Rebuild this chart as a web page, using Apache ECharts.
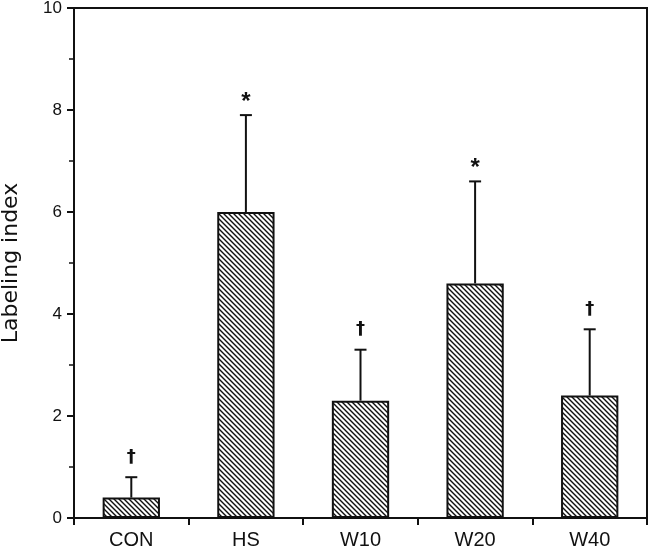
<!DOCTYPE html>
<html>
<head>
<meta charset="utf-8">
<script src="https://cdn.jsdelivr.net/npm/echarts@6/dist/echarts.min.js"></script>
<style>html,body{margin:0;padding:0;background:#fff}#c{width:649px;height:550px}</style>
</head>
<body>
<div id="c"></div>
<script>
const categories = ['CON', 'HS', 'W10', 'W20', 'W40'];
const means = [0.4, 6.0, 2.3, 4.6, 2.4];
const errors = [0.4, 1.9, 1.0, 2.0, 1.3];
const marks = ['†', '*', '†', '*', '†'];
const yTicks = [0, 2, 4, 6, 8, 10];

function hatch() {
  const s = 5;
  const c = document.createElement('canvas');
  c.width = s; c.height = s;
  const g = c.getContext('2d');
  g.fillStyle = '#fff'; g.fillRect(0, 0, s, s);
  g.strokeStyle = '#111'; g.lineWidth = 1.4;
  g.beginPath();
  g.moveTo(-1, -1); g.lineTo(s + 1, s + 1);
  g.moveTo(-1, s - 1); g.lineTo(1, s + 1);
  g.moveTo(s - 1, -1); g.lineTo(s + 1, 1);
  g.stroke();
  return c;
}

const chart = echarts.init(document.getElementById('c'));
const font = '"Liberation Sans", Arial, sans-serif';
chart.setOption({
  animation: false,
  grid: { left: 74, right: 2, top: 8, bottom: 32, show: true, borderColor: '#111', borderWidth: 2,
          containLabel: false, outerBoundsMode: 'none' },
  xAxis: {
    type: 'category', data: categories,
    axisLine: { lineStyle: { color: '#111', width: 2 } },
    axisTick: { show: true, length: 7, lineStyle: { color: '#111', width: 2 } },
    axisLabel: { color: '#111', fontSize: 20, fontFamily: font, margin: 12 }
  },
  yAxis: {
    type: 'value', min: yTicks[0], max: yTicks[yTicks.length - 1], interval: 2,
    name: 'Labeling index', nameLocation: 'middle', nameGap: 52,
    nameTextStyle: { color: '#111', fontSize: 22, fontFamily: '"DejaVu Sans", sans-serif' },
    axisLine: { show: true, lineStyle: { color: '#111', width: 2 } },
    axisTick: { show: true, length: 7, lineStyle: { color: '#111', width: 2 } },
    minorTick: { show: true, splitNumber: 2, length: 5, lineStyle: { color: '#111', width: 1.5 } },
    splitLine: { show: false },
    axisLabel: { color: '#111', fontSize: 17, fontFamily: font, margin: 12 }
  },
  series: [
    {
      type: 'bar', data: means, barWidth: '50%',
      itemStyle: { color: { image: hatch(), repeat: 'repeat' }, borderColor: '#111', borderWidth: 2 },
      z: 2
    },
    {
      type: 'custom',
      data: categories.map((c, i) => [i, means[i], means[i] + errors[i]]),
      renderItem: function (params, api) {
        const i = api.value(0);
        const base = api.coord([i, api.value(1)]);
        const top = api.coord([i, api.value(2)]);
        const m = marks[params.dataIndex];
        const star = m === '*';
        return {
          type: 'group',
          children: [
            { type: 'line', shape: { x1: base[0], y1: base[1], x2: top[0], y2: top[1] }, style: { stroke: '#111', lineWidth: 2 } },
            { type: 'line', shape: { x1: top[0] - 6, y1: top[1], x2: top[0] + 6, y2: top[1] }, style: { stroke: '#111', lineWidth: 2 } },
            { type: 'text', style: { text: m, x: top[0], y: top[1] - (star ? 13 : 20), align: 'center', verticalAlign: 'middle',
              font: 'bold ' + (star ? 24 : 18) + 'px ' + (star ? font : '"DejaVu Sans", sans-serif'), fill: '#111' } }
          ]
        };
      },
      z: 3
    }
  ]
});
</script>
</body>
</html>
